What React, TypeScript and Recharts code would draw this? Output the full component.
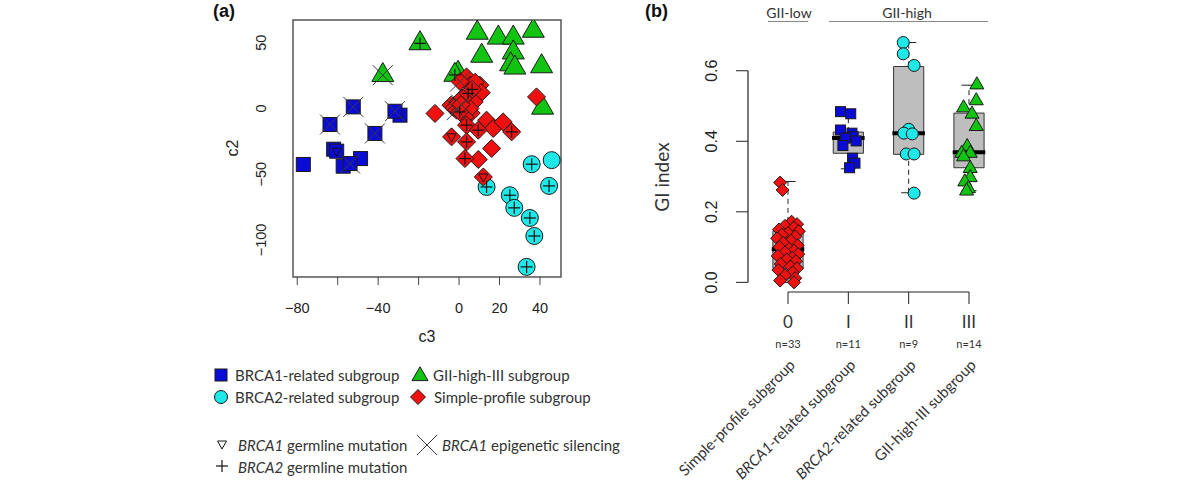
import React from 'react'
import { ScatterChart, ComposedChart, Scatter, XAxis, YAxis, ReferenceArea, ReferenceLine } from 'recharts'

const AXIS_FONT = '"Liberation Sans", Arial, sans-serif'
const TEXT_FONT = 'Lato, "Open Sans", sans-serif'
const COL = { brca1: '#0b0bd8', brca2: '#1ee8e8', gii3: '#12c412', simple: '#ef1010' }

// panel (a): c3 on x, c2 on y; mark: '' none, 'x' BRCA1 silencing, '+' BRCA2 germline, 'v' BRCA1 germline
const brca1C3 = [-77.0, -62.0, -29.2, -57.3, -48.7, -63.8, -52.3, -41.6, -31.7, -60.5, -53.9]
const brca1C2 = [-42.6, -31.0, -5.1, -43.9, -38.1, -12.2, 1.2, -19.0, -2.1, -32.5, -41.9]
const brca1Mark = ['', '', '', '', '', 'x', 'x', 'x', 'x', 'v', 'x']

const brca2C3 = [35.9, 45.8, 13.6, 44.5, 25.1, 27.3, 35.0, 37.2, 33.4]
const brca2C2 = [-42.4, -39.3, -59.7, -58.9, -66.0, -75.6, -83.3, -97.0, -120.5]
const brca2Mark = ['+', '', '+', '+', '+', '+', '+', '+', '+']

const gii3C3 = [9.0, 19.4, 26.8, 36.7, 11.2, 26.8, 25.5, 27.6, 40.8, 41.3, -0.5, -2.1, -19.3, -37.7]
const gii3C2 = [57.5, 53.8, 53.8, 59.0, 40.0, 42.5, 33.5, 31.0, 32.0, 0.5, 27.0, 25.5, 49.5, 25.3]
const gii3Mark = ['', '', '', '', '', '', '', '', '', '', '', '+', '+', 'x']

const simpleC3 = [-11.9, -4.0, -0.4, -2.5, 1.5, 3.7, 5.4, 10.3, 8.0, 0.5, 11.0, 7.5, 6.0, 5.4, 2.9, 13.6, 16.9, 21.8, 16.1, 9.5, 38.3, -1.2, 0.3, 1.0, 4.5, 6.5, 3.7, 9.5, 26.0, -3.7, 3.7, 2.9, 12.0]
const simpleC2 = [-3.8, 2.5, 5.0, 0.5, 8.0, 24.0, 17.7, 17.7, 20.0, 20.5, 12.0, 5.0, -3.5, 0.0, -6.4, -8.9, -15.2, -10.2, -30.4, -38.8, 8.8, -1.3, -2.6, 3.0, 11.4, 14.5, -12.7, -16.5, -17.8, -21.6, -25.4, -38.1, -52.1]
const simpleMark = ['', '', '', '', '', '', '', '', '', 'x', '', '', '', '', '', '', '', '', '', '', '', 'x', '+', 'x', '+', '+', '+', '+', '+', 'v', '+', '+', 'v']

const c3Ticks = [-80, -60, -40, -20, 0, 20, 40]
const c3Hidden = [-60, -20]
const c2Ticks = [-100, -50, 0, 50]

// panel (b): GI index per subgroup, with horizontal jitter as drawn
const giSimple = [0.283, 0.262, 0.172, 0.165, 0.160, 0.155, 0.150, 0.145, 0.140, 0.135, 0.130, 0.125, 0.118, 0.112, 0.105, 0.100, 0.095, 0.090, 0.085, 0.080, 0.075, 0.070, 0.065, 0.060, 0.052, 0.045, 0.040, 0.035, 0.028, 0.020, 0.012, 0.005, 0.000]
const jitSimple = [-0.13, -0.09, 0.06, 0.15, -0.05, 0.10, -0.15, 0.18, 0.0, -0.10, 0.12, -0.18, 0.05, -0.08, 0.16, -0.14, 0.02, 0.10, -0.05, 0.17, -0.17, 0.07, -0.02, 0.13, -0.12, 0.04, 0.15, -0.16, 0.08, -0.05, 0.12, -0.13, 0.10]
const giBrca1 = [0.484, 0.478, 0.432, 0.423, 0.413, 0.409, 0.401, 0.388, 0.352, 0.338, 0.325]
const jitBrca1 = [-0.13, 0.04, -0.13, 0.06, 0.08, -0.05, 0.13, -0.09, 0.07, 0.11, 0.02]
const giBrca2 = [0.680, 0.648, 0.615, 0.434, 0.423, 0.421, 0.364, 0.364, 0.253]
const jitBrca2 = [-0.09, -0.09, 0.09, 0.0, -0.08, 0.06, -0.04, 0.09, 0.09]
const giGii3 = [0.560, 0.515, 0.495, 0.477, 0.442, 0.385, 0.366, 0.366, 0.356, 0.323, 0.297, 0.285, 0.266, 0.259]
const jitGii3 = [0.13, 0.12, -0.09, 0.05, 0.12, -0.03, -0.12, 0.02, -0.09, 0.02, 0.02, -0.07, -0.01, -0.04]

const boxQ1 = [0.040, 0.366, 0.363, 0.325]
const boxMed = [0.094, 0.409, 0.423, 0.369]
const boxQ3 = [0.146, 0.426, 0.612, 0.480]
const whiskLo = [0.0, 0.322, 0.254, 0.260]
const whiskHi = [0.286, 0.486, 0.680, 0.559]

const groupCodes = ['0', 'I', 'II', 'III']
const groupN = ['n=33', 'n=11', 'n=9', 'n=14']
const groupItalic = ['', 'BRCA1', 'BRCA2', '']
const groupRest = ['Simple-profile subgroup', '-related subgroup', '-related subgroup', 'GII-high-III subgroup']
const giTicks = [0, 0.2, 0.4, 0.6]

type Kind = 'square' | 'circle' | 'triangle' | 'diamond'

function marker(kind: Kind, cx: number, cy: number, s: number, fill: string) {
  const st = { fill, stroke: '#1a1a1a', strokeWidth: 1 }
  if (kind === 'square') return <rect x={cx - s / 2} y={cy - s / 2} width={s} height={s} {...st} />
  if (kind === 'circle') return <circle cx={cx} cy={cy} r={s / 2} {...st} />
  if (kind === 'triangle') {
    const r = s / Math.sqrt(3)
    return <polygon points={`${cx},${cy - r} ${cx + s / 2},${cy + r / 2} ${cx - s / 2},${cy + r / 2}`} {...st} />
  }
  return <polygon points={`${cx},${cy - s / 2} ${cx + s / 2},${cy} ${cx},${cy + s / 2} ${cx - s / 2},${cy}`} {...st} />
}

function markGlyph(mark: string, cx: number, cy: number, big = false) {
  if (mark === 'x') {
    const d = big ? 10 : 10
    return (
      <g stroke="#3a3a3a" strokeWidth={1}>
        <line x1={cx - d} y1={cy - d} x2={cx + d} y2={cy + d} />
        <line x1={cx - d} y1={cy + d} x2={cx + d} y2={cy - d} />
      </g>
    )
  }
  if (mark === '+') {
    return (
      <g stroke="#111" strokeWidth={1.2}>
        <line x1={cx - 6} y1={cy} x2={cx + 6} y2={cy} />
        <line x1={cx} y1={cy - 6} x2={cx} y2={cy + 6} />
      </g>
    )
  }
  if (mark === 'v') {
    return <polygon points={`${cx - 4.5},${cy - 3} ${cx + 4.5},${cy - 3} ${cx},${cy + 5}`} fill="none" stroke="#111" strokeWidth={1} />
  }
  return <g />
}

const pts = (xs: number[], ys: number[], marks: string[]) => xs.map((x, i) => ({ x, y: ys[i], mark: marks[i] }))
const brca1Pts = pts(brca1C3, brca1C2, brca1Mark)
const brca2Pts = pts(brca2C3, brca2C2, brca2Mark)
const gii3Pts = pts(gii3C3, gii3C2, gii3Mark)
const simplePts = pts(simpleC3, simpleC2, simpleMark)
const markedPts = [...brca1Pts, ...brca2Pts, ...gii3Pts, ...simplePts].filter((p) => p.mark !== '')

const giPts = (vals: number[], jit: number[], g: number) => vals.map((v, i) => ({ x: g + jit[i], y: v }))
const bSimple = giPts(giSimple, jitSimple, 0)
const bBrca1 = giPts(giBrca1, jitBrca1, 1)
const bBrca2 = giPts(giBrca2, jitBrca2, 2)
const bGii3 = giPts(giGii3, jitGii3, 3)

const minus = (v: number) => (v < 0 ? '\u2212' + Math.abs(v) : String(v))

function C3Tick({ x, y, payload }: any) {
  if (c3Hidden.includes(payload.value)) return <g />
  return (
    <text x={x} y={y + 23} textAnchor="middle" dominantBaseline="central" fontSize={14.5} fontFamily={AXIS_FONT} fill="#222">
      {minus(payload.value)}
    </text>
  )
}

function C2Tick({ x, y, payload }: any) {
  const tx = x - 32
  return (
    <text x={tx} y={y} transform={`rotate(-90 ${tx} ${y})`} textAnchor="middle" dominantBaseline="central" fontSize={14.5} fontFamily={AXIS_FONT} fill="#222">
      {minus(payload.value)}
    </text>
  )
}

function GiTick({ x, y, payload }: any) {
  const tx = x - 24
  return (
    <text x={tx} y={y} transform={`rotate(-90 ${tx} ${y})`} textAnchor="middle" dominantBaseline="central" fontSize={16} fontFamily={AXIS_FONT} fill="#222">
      {payload.value.toFixed(1)}
    </text>
  )
}

function GroupTick({ x, y, payload }: any) {
  const i = payload.value
  return (
    <g fontFamily={TEXT_FONT} fill="#333">
      <text x={x} y={y + 17} textAnchor="middle" dominantBaseline="central" fontSize={17}>{groupCodes[i]}</text>
      <text x={x} y={y + 39} textAnchor="middle" dominantBaseline="central" fontSize={11}>{groupN[i]}</text>
      <text transform={`translate(${x + 8},${y + 62}) rotate(-45)`} textAnchor="end" fontSize={15}>
        {groupItalic[i] && <tspan fontStyle="italic">{groupItalic[i]}</tspan>}
        <tspan>{groupRest[i]}</tspan>
      </text>
    </g>
  )
}

function Legend() {
  const t = { fontFamily: TEXT_FONT, fontSize: 15, fill: '#333', dominantBaseline: 'central' as const }
  return (
    <g>
      {marker('square', 221, 375, 12, COL.brca1)}
      <text x={235} y={375} {...t}>BRCA1-related subgroup</text>
      {marker('circle', 221, 397, 13, COL.brca2)}
      <text x={235} y={397} {...t}>BRCA2-related subgroup</text>
      {marker('triangle', 420, 376, 16, COL.gii3)}
      <text x={433} y={375} {...t}>GII-high-III subgroup</text>
      {marker('diamond', 418, 397, 15, COL.simple)}
      <text x={434} y={397} {...t}>Simple-profile subgroup</text>
      {markGlyph('v', 222, 444)}
      <text x={238} y={445} {...t}><tspan fontStyle="italic">BRCA1</tspan> germline mutation</text>
      {markGlyph('x', 427, 445, true)}
      <text x={442} y={445} {...t}><tspan fontStyle="italic">BRCA1</tspan>  epigenetic silencing</text>
      {markGlyph('+', 222, 466)}
      <text x={238} y={467} {...t}><tspan fontStyle="italic">BRCA2</tspan> germline mutation</text>
    </g>
  )
}

export default function App() {
  return (
    <div style={{ position: 'fixed', left: 0, top: 0, width: 1200, height: 486, background: '#fff' }}>
      <div style={{ position: 'absolute', left: 0, top: 0 }}>
        <ScatterChart width={600} height={350} margin={{ top: 20, right: 39, bottom: 13, left: 233 }}>
          <XAxis type="number" dataKey="x" domain={[-82.1, 50.4]} ticks={c3Ticks} allowDataOverflow axisLine={false}
            tickSize={8} tickMargin={0} tickLine={{ stroke: '#444' }} height={60} tick={<C3Tick />} interval={0} />
          <YAxis type="number" dataKey="y" domain={[-128.2, 67.3]} ticks={c2Ticks} allowDataOverflow axisLine={false}
            tickLine={false} tickSize={0} tickMargin={0} width={60} tick={<C2Tick />} interval={0} />
          <ReferenceArea x1={-82.1} x2={50.4} y1={-128.2} y2={67.3} fill="none" fillOpacity={0} stroke="#555" strokeWidth={1.5} />
          <Scatter data={brca1Pts} isAnimationActive={false} shape={(p: any) => marker('square', p.cx, p.cy, 14, COL.brca1)} />
          <Scatter data={brca2Pts} isAnimationActive={false} shape={(p: any) => marker('circle', p.cx, p.cy, 17, COL.brca2)} />
          <Scatter data={gii3Pts} isAnimationActive={false} shape={(p: any) => marker('triangle', p.cx, p.cy, 22, COL.gii3)} />
          <Scatter data={simplePts} isAnimationActive={false} shape={(p: any) => marker('diamond', p.cx, p.cy, 18, COL.simple)} />
          <Scatter data={markedPts} isAnimationActive={false} shape={(p: any) => markGlyph(p.payload.mark, p.cx, p.cy)} />
        </ScatterChart>
      </div>
      <div style={{ position: 'absolute', left: 600, top: 0 }}>
        <ComposedChart width={600} height={486} margin={{ top: 33, right: 191, bottom: 0, left: 48 }}>
          <XAxis type="number" dataKey="x" domain={[-0.663, 3.663]} ticks={[0, 1, 2, 3]} allowDataOverflow axisLine={false}
            tickSize={12} tickMargin={0} tickLine={{ stroke: '#222' }} height={194} tick={<GroupTick />} interval={0} />
          <YAxis type="number" dataKey="y" domain={[-0.0273, 0.707]} ticks={giTicks} allowDataOverflow axisLine={false}
            tickSize={12} tickMargin={0} tickLine={{ stroke: '#222' }} width={100} tick={<GiTick />} interval={0} />
          <ReferenceLine segment={[{ x: -0.663, y: 0 }, { x: -0.663, y: 0.6 }]} stroke="#222" strokeWidth={1.2} />
          <ReferenceLine segment={[{ x: 0, y: -0.0273 }, { x: 3, y: -0.0273 }]} stroke="#222" strokeWidth={1.2} />
          {boxQ1.map((q1, i) => (
            <ReferenceArea key={'b' + i} x1={i - 0.25} x2={i + 0.25} y1={q1} y2={boxQ3[i]} fill="#bebebe" fillOpacity={1} stroke="#333" strokeWidth={1} />
          ))}
          {boxQ1.map((q1, i) => (
            <ReferenceLine key={'wl' + i} segment={[{ x: i, y: whiskLo[i] }, { x: i, y: q1 }]} stroke="#222" strokeDasharray="5 4" />
          ))}
          {boxQ3.map((q3, i) => (
            <ReferenceLine key={'wh' + i} segment={[{ x: i, y: q3 }, { x: i, y: whiskHi[i] }]} stroke="#222" strokeDasharray="5 4" />
          ))}
          {whiskLo.map((v, i) => (
            <ReferenceLine key={'cl' + i} segment={[{ x: i - 0.125, y: v }, { x: i + 0.125, y: v }]} stroke="#222" />
          ))}
          {whiskHi.map((v, i) => (
            <ReferenceLine key={'ch' + i} segment={[{ x: i - 0.125, y: v }, { x: i + 0.125, y: v }]} stroke="#222" />
          ))}
          {boxMed.map((m, i) => (
            <ReferenceLine key={'m' + i} segment={[{ x: i - 0.27, y: m }, { x: i + 0.27, y: m }]} stroke="#000" strokeWidth={4} />
          ))}
          <Scatter data={bSimple} isAnimationActive={false} shape={(p: any) => marker('diamond', p.cx, p.cy, 13, COL.simple)} />
          <Scatter data={bBrca1} isAnimationActive={false} shape={(p: any) => marker('square', p.cx, p.cy, 10, COL.brca1)} />
          <Scatter data={bBrca2} isAnimationActive={false} shape={(p: any) => marker('circle', p.cx, p.cy, 12, COL.brca2)} />
          <Scatter data={bGii3} isAnimationActive={false} shape={(p: any) => marker('triangle', p.cx, p.cy, 14, COL.gii3)} />
        </ComposedChart>
      </div>
      <svg width={1200} height={486} style={{ position: 'absolute', left: 0, top: 0, pointerEvents: 'none' }}>
        <text x={213} y={17} fontFamily={AXIS_FONT} fontWeight="bold" fontSize={18} fill="#111">(a)</text>
        <text x={645} y={17} fontFamily={AXIS_FONT} fontWeight="bold" fontSize={18} fill="#111">(b)</text>
        <text x={427} y={336} textAnchor="middle" dominantBaseline="central" fontFamily={AXIS_FONT} fontSize={16} fill="#222">c3</text>
        <text x={232} y={148} transform="rotate(-90 232 148)" textAnchor="middle" dominantBaseline="central" fontFamily={AXIS_FONT} fontSize={16} fill="#222">c2</text>
        <text x={661} y={177} transform="rotate(-90 661 177)" textAnchor="middle" dominantBaseline="central" fontFamily={TEXT_FONT} fontSize={19} fill="#333">GI index</text>
        <text x={789} y={12} textAnchor="middle" dominantBaseline="central" fontFamily={TEXT_FONT} fontSize={14} fill="#333">GII-low</text>
        <line x1={768} y1={21.5} x2={808} y2={21.5} stroke="#888" strokeWidth={1.2} />
        <text x={907} y={12} textAnchor="middle" dominantBaseline="central" fontFamily={TEXT_FONT} fontSize={14} fill="#333">GII-high</text>
        <line x1={829} y1={21.5} x2={988} y2={21.5} stroke="#888" strokeWidth={1.2} />
        <Legend />
      </svg>
    </div>
  )
}
